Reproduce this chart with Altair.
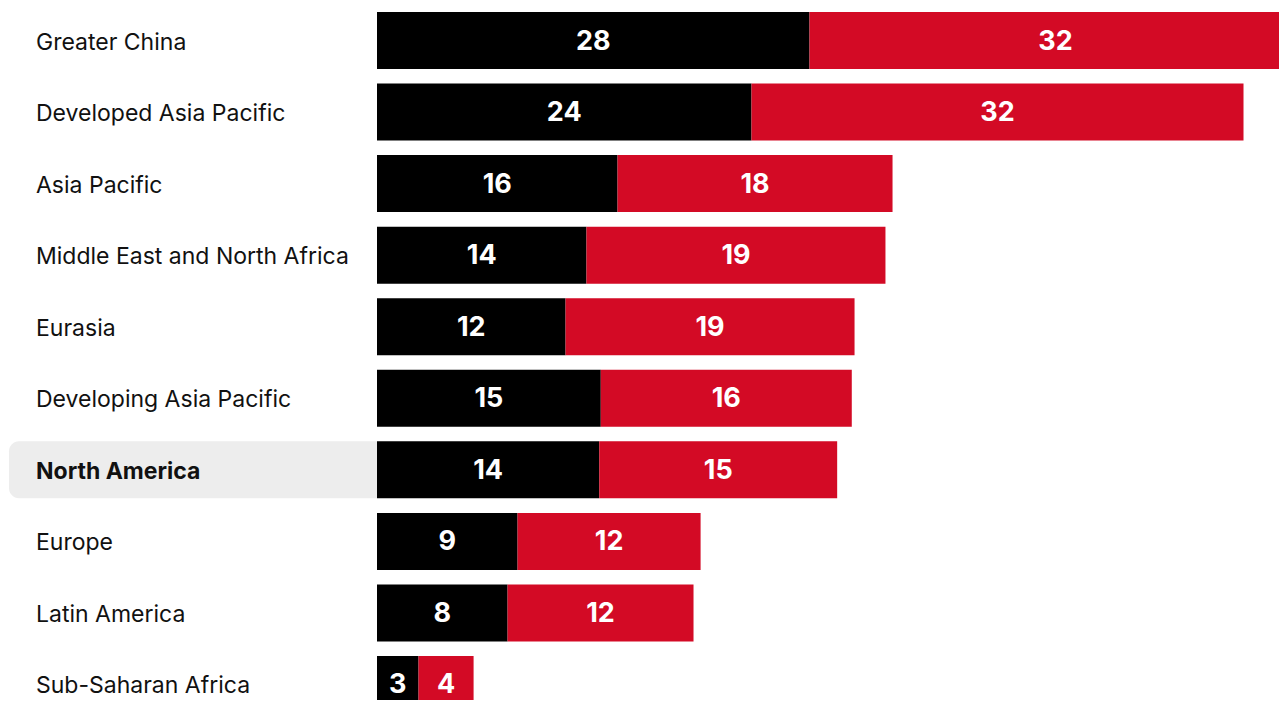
import altair as alt
import pandas as pd

regions = [
    "Greater China",
    "Developed Asia Pacific",
    "Asia Pacific",
    "Middle East and North Africa",
    "Eurasia",
    "Developing Asia Pacific",
    "North America",
    "Europe",
    "Latin America",
    "Sub-Saharan Africa",
]
black_vals = [28.12, 24.35, 15.64, 13.62, 12.26, 14.55, 14.45, 9.14, 8.49, 2.70]
red_vals = [32.0, 31.99, 17.88, 19.44, 18.79, 16.32, 15.47, 11.90, 12.09, 3.58]
series_names = ["First", "Second"]
series_colors = ["#000000", "#D30A25"]
highlight = "North America"

rows = []
for r, b, s in zip(regions, black_vals, red_vals):
    rows.append({"region": r, "series": series_names[0], "value": b,
                 "start": 0.0, "end": b, "mid": b / 2})
    rows.append({"region": r, "series": series_names[1], "value": s,
                 "start": b, "end": b + s, "mid": b + s / 2})
bars_df = pd.DataFrame(rows)
labels_df = pd.DataFrame({"region": regions,
                          "hl": [r == highlight for r in regions]})

FONT = "Inter"
W, H = 902, 692
LEFT = 369

yscale = alt.Scale(domain=regions, range=[0, 709], paddingInner=0.2035, paddingOuter=0.056)
y_enc = alt.Y("region:N", sort=regions, scale=yscale, axis=None)
xscale = alt.Scale(domain=[0, W / 15.38], nice=False, zero=True)

base_left = alt.Chart(labels_df)
hl_rect = base_left.transform_filter(alt.datum.hl).mark_rect(
    color="#EDEDED", cornerRadiusTopLeft=10, cornerRadiusBottomLeft=10
).encode(y=y_enc, x=alt.value(-368), x2=alt.value(0))
lab_norm = base_left.transform_filter(~alt.datum.hl).mark_text(
    align="left", baseline="middle", font=FONT, fontSize=23, color="#111111", dy=2
).encode(y=y_enc, x=alt.value(-341), text="region:N")
lab_bold = base_left.transform_filter(alt.datum.hl).mark_text(
    align="left", baseline="middle", font=FONT, fontSize=23, fontWeight="bold", color="#111111", dy=2
).encode(y=y_enc, x=alt.value(-341), text="region:N")

base_right = alt.Chart(bars_df)
bars = base_right.mark_bar().encode(
    y=y_enc,
    x=alt.X("start:Q", scale=xscale, axis=None),
    x2="end:Q",
    color=alt.Color("series:N", scale=alt.Scale(domain=series_names, range=series_colors), legend=None),
)
nums = base_right.mark_text(
    align="center", baseline="middle", font=FONT, fontSize=27, fontWeight="bold", color="#FFFFFF", dy=1
).encode(
    y=y_enc,
    x=alt.X("mid:Q", scale=xscale, axis=None),
    text=alt.Text("value:Q", format=".0f"),
)

chart = alt.layer(hl_rect, lab_norm, lab_bold, bars, nums).properties(
    width=W,
    height=H,
    autosize=alt.AutoSizeParams(type="none"),
    padding={"left": LEFT, "right": 0, "top": 0, "bottom": 0},
).configure_view(stroke=None)

chart.save("out.html", embed_options={"renderer": "svg", "actions": False})
